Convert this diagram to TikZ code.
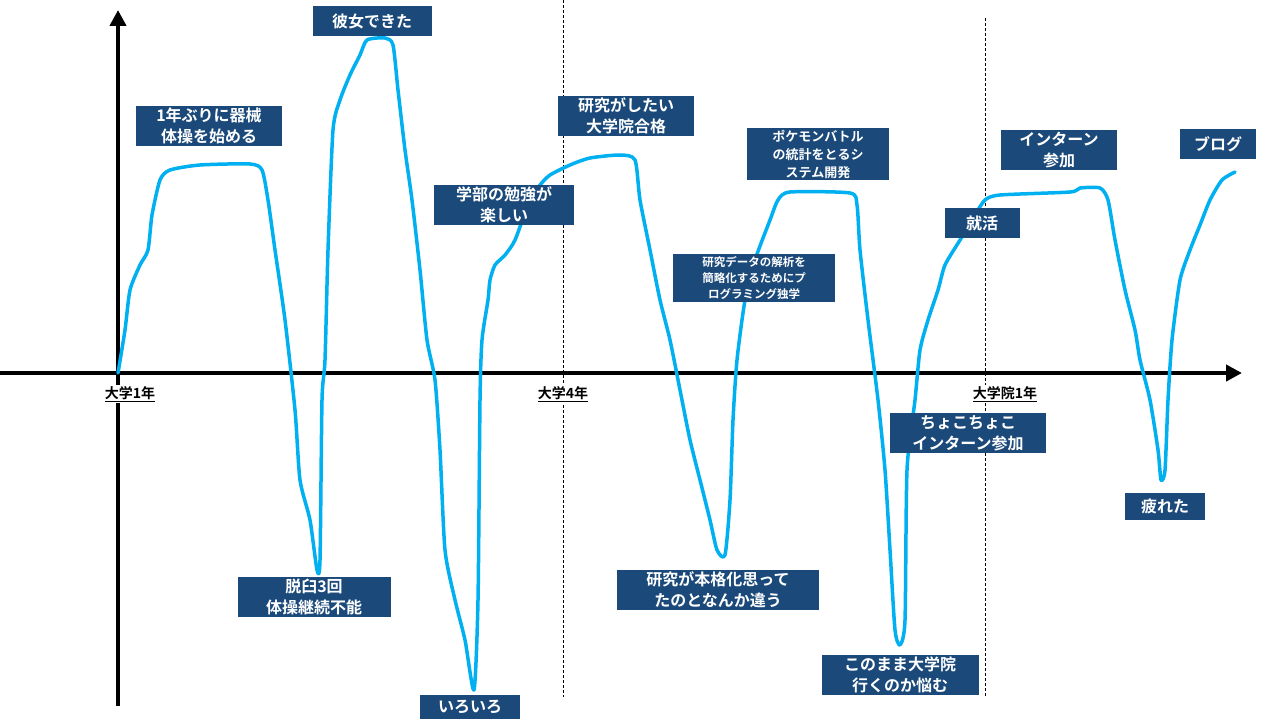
\documentclass[tikz,border=0pt]{standalone}
\usepackage{fontspec}
\newfontfamily\jp{Noto Sans CJK JP}[BoldFont={* Bold}]
\usetikzlibrary{arrows.meta}
\definecolor{boxc}{HTML}{1B4A7A}
\definecolor{curvec}{HTML}{00B0F0}
\tikzset{
 lbl/.style={fill=boxc,text=white,font=\jp\bfseries\fontsize{16}{21}\selectfont,align=center,inner sep=2pt,minimum height=30pt},
 lbls/.style={lbl,font=\jp\bfseries\fontsize{13}{18}\selectfont},
 lblt/.style={lbl,font=\jp\bfseries\fontsize{11.5}{16}\selectfont},
 axl/.style={fill=white,font=\jp\bfseries\fontsize{14}{16}\selectfont,inner sep=1pt},
 ax/.style={line width=4pt,-{Triangle[length=16pt,width=16pt]}},
 dl/.style={dash pattern=on 3pt off 2pt,line width=0.6pt}
}
\begin{document}
\begin{tikzpicture}[x=1pt,y=-1pt]
\useasboundingbox[fill=white] (0,0) rectangle (1265,719);
\draw[dl] (563,0) -- (563,697);
\draw[dl] (985,18) -- (985,697);
\coordinate (o) at (118,373);
\coordinate (xe) at (1242,373);
\coordinate (yb) at (118,706);
\coordinate (ye) at (118,10);
\draw[ax] (0,373) -- (xe);
\draw[ax] (yb) -- (ye);
\node[axl] (a1) at (130,394) {\underline{大学1年}};
\node[axl] (a4) at (563,394) {\underline{大学4年}};
\node[axl] (a7) at (1005,394) {\underline{大学院1年}};
\draw[curvec,line width=3.5pt,line join=round,line cap=round] plot[smooth,tension=0.4] coordinates {
(118,373) (125,330) (130,290) (140,265) (148,250) (152,215) (160,180) (170,170) (200,165) (250,164) (262,170) (268,200) (275,250) (285,320) (295,410) (300,480) (310,520) (317,570) (320,560) (322,400) (325,360) (328,250) (333,130) (340,100) (350,75) (360,55) (367,40) (385,38) (393,45) (398,90) (405,150) (412,200) (420,270) (427,340) (435,380) (440,450) (445,550) (455,600) (465,640) (474,690) (478,600) (480,400) (482,340) (488,300) (490,280) (495,265) (505,255) (515,240) (530,200) (540,185) (550,175) (570,165) (590,158) (620,155) (635,160) (640,200) (650,250) (660,300) (670,340) (680,390) (690,440) (700,480) (710,520) (717,550) (725,555) (730,500) (733,420) (737,360) (745,300) (755,260) (770,220) (778,200) (790,192) (850,193) (857,205) (860,250) (868,320) (878,400) (885,470) (890,550) (895,630) (900,645) (905,620) (907,470) (915,400) (920,350) (928,320) (938,290) (945,265) (960,240) (975,215) (985,200) (1000,195) (1070,192) (1080,188) (1100,188) (1108,200) (1115,240) (1125,290) (1135,330) (1140,360) (1150,400) (1158,450) (1161,480) (1165,470) (1168,400) (1172,340) (1180,280) (1190,250) (1200,225) (1210,200) (1222,180) (1235,172)};
\node[lbl,minimum width=146pt] (b1) at (209,126) {1年ぶりに器械\\体操を始める};
\node[lbl,minimum width=119pt] (b2) at (372,21) {彼女できた};
\node[lbl,minimum width=140pt] (b3) at (504,205) {学部の勉強が\\楽しい};
\node[lbl,minimum width=136pt] (b4) at (626,116) {研究がしたい\\大学院合格};
\node[lbls,minimum width=142pt] (b5) at (818,154) {ポケモンバトル\\の統計をとるシ\\ステム開発};
\node[lblt,minimum width=162pt] (b6) at (754,278) {研究データの解析を\\簡略化するためにプ\\ログラミング独学};
\node[lbl,minimum width=75pt] (b7) at (982,223) {就活};
\node[lbl,minimum width=116pt] (b8) at (1059,150) {インターン\\参加};
\node[lbl,minimum width=76pt] (b9) at (1218,144) {ブログ};
\node[lbl,minimum width=153pt] (c1) at (314,597) {脱臼3回\\体操継続不能};
\node[lbl,minimum width=100pt,minimum height=24pt,inner sep=0pt] (c2) at (470,707) {いろいろ};
\node[lbl,minimum width=202pt] (c3) at (718,590) {研究が本格化思って\\たのとなんか違う};
\node[lbl,minimum width=157pt] (c4) at (900,675) {このまま大学院\\行くのか悩む};
\node[lbl,minimum width=156pt] (c5) at (968,433) {ちょこちょこ\\インターン参加};
\node[lbl,minimum width=80pt,minimum height=27pt] (c6) at (1165,506) {疲れた};
\end{tikzpicture}
\end{document}
